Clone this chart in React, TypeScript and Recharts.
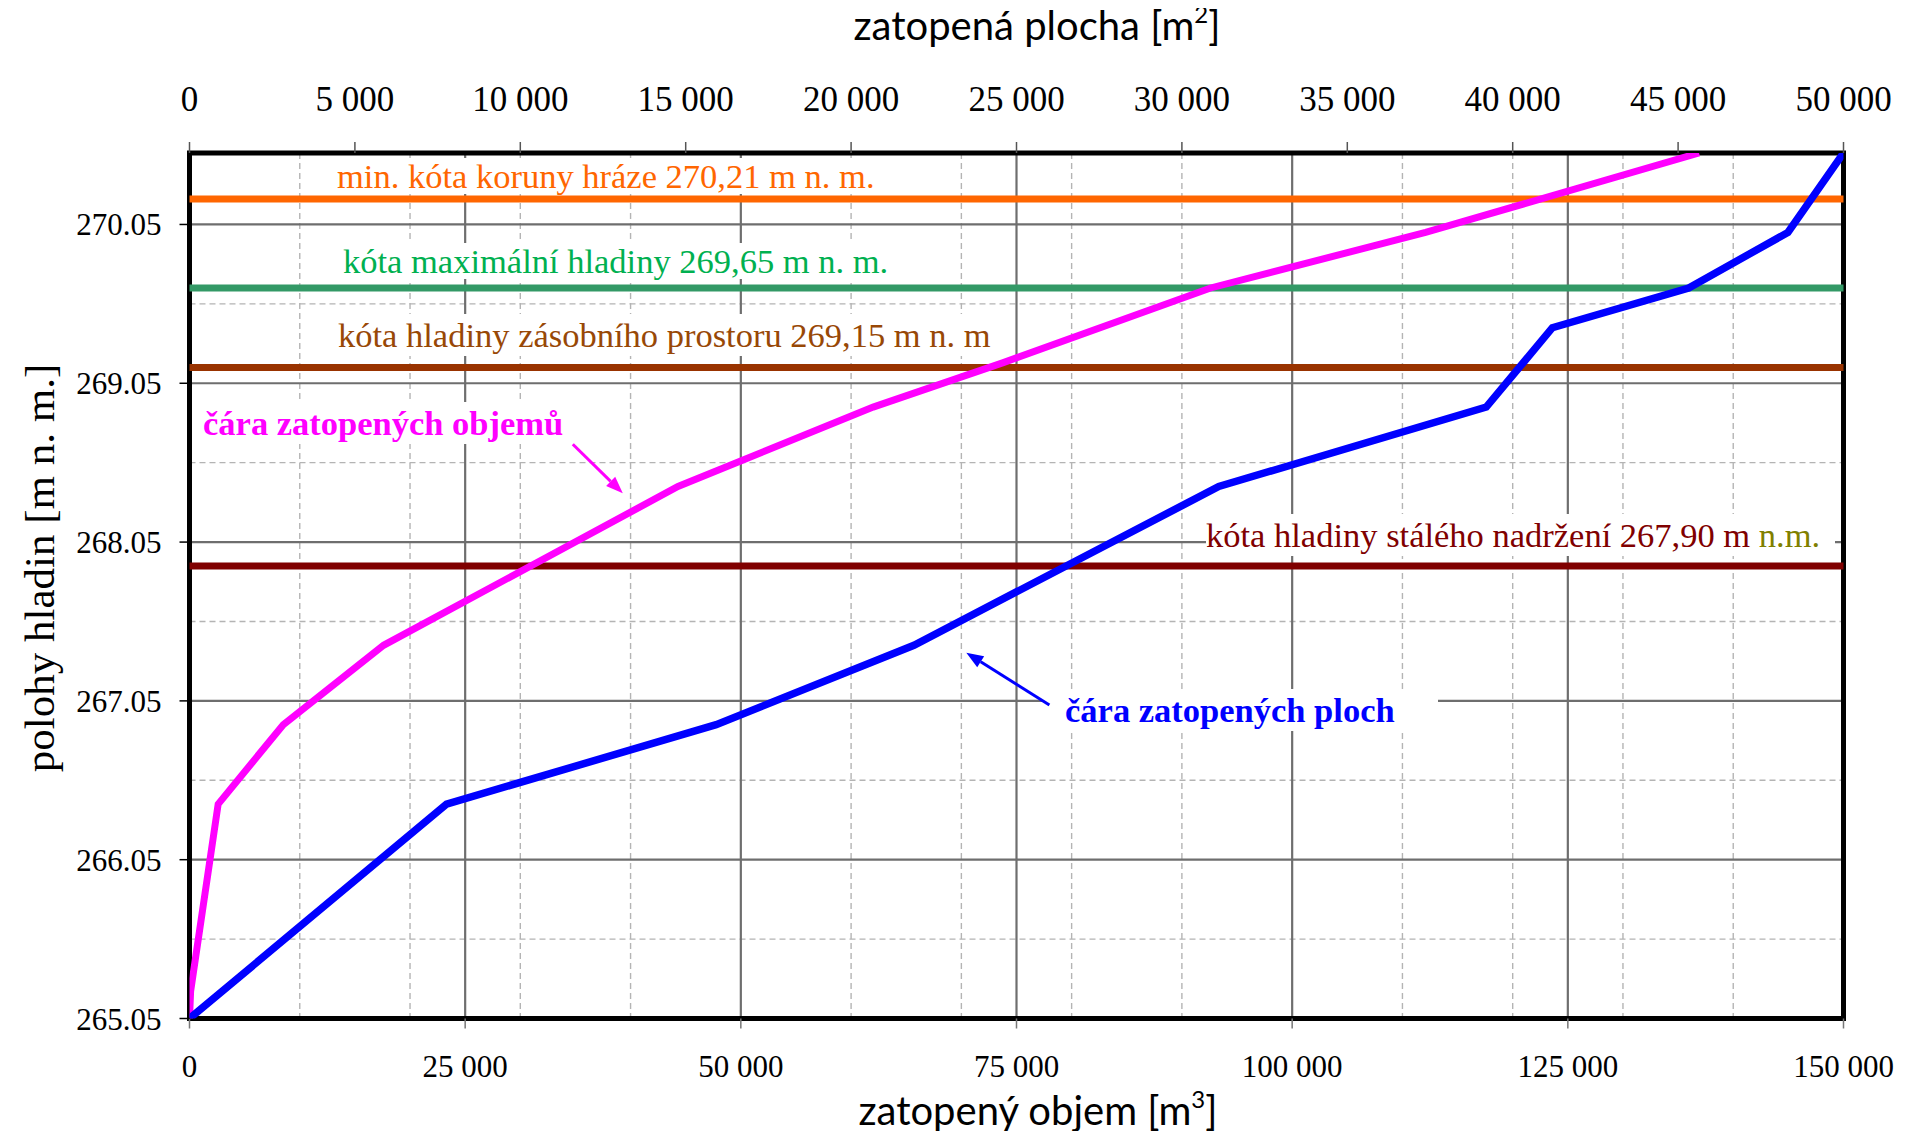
import React from 'react';
import {
  LineChart, Line, XAxis, YAxis, CartesianGrid, ReferenceLine, ReferenceArea,
} from 'recharts';

// ---- data ----
// čára zatopených objemů (volume [m3] vs elevation)
const volumeX = [0, 100, 2600, 8500, 17600, 44300, 62000, 73800, 92600, 112100, 136900];
const volumeH = [265.05, 265.22, 266.4, 266.9, 267.4, 268.4, 268.9, 269.18, 269.65, 270.0, 270.5];
// čára zatopených ploch (area [m2] vs elevation)
const areaX = [0, 7770, 15920, 21900, 31115, 39200, 41200, 45320, 48320, 50000];
const areaH = [265.05, 266.4, 266.9, 267.4, 268.4, 268.9, 269.4, 269.65, 270.0, 270.5];

// axis ticks
const yTicks = [265.05, 266.05, 267.05, 268.05, 269.05, 270.05];
const yMinor = [265.55, 266.55, 267.55, 268.55, 269.55];
const volTicks = [0, 25000, 50000, 75000, 100000, 125000, 150000];
const volMinor = [10000, 20000, 30000, 40000, 60000, 70000, 80000, 90000, 110000, 120000, 130000, 140000];
const areaTicks = [0, 5000, 10000, 15000, 20000, 25000, 30000, 35000, 40000, 45000, 50000];

// water levels
const levelCrest = 270.21;
const levelMax = 269.65;
const levelStorage = 269.15;
const levelPermanent = 267.9;

const volumeData = volumeX.map((x, i) => ({ x, h: volumeH[i] }));
const areaData = areaX.map((x, i) => ({ x, h: areaH[i] }));

const fmtThousands = (v: number) => String(v).replace(/\B(?=(\d{3})+(?!\d))/g, ' ');

const SERIF = '"Liberation Serif", "Times New Roman", serif';
const SANS = 'Lato, "Open Sans", sans-serif';

const W = 1900;
const H = 1115;
const LFS = 34.5;

// Liberation Serif: ascent .891, descent .216
function labelTop(baseline: number, fs: number, lh: number) {
  return baseline - ((lh - 1.107 * fs) / 2 + 0.891 * fs);
}

function Label({ left, baseline, fs = LFS, lh = 40, color, bold = false, padL = 0, padR = 6, children }: any) {
  return (
    <div
      style={{
        position: 'absolute',
        left: left - padL,
        top: labelTop(baseline, fs, lh),
        fontFamily: SERIF,
        fontSize: fs,
        lineHeight: lh + 'px',
        color,
        fontWeight: bold ? 700 : 400,
        background: '#fff',
        paddingLeft: padL,
        paddingRight: padR,
        whiteSpace: 'nowrap',
      }}
    >
      {children}
    </div>
  );
}

function Arrow({ x1, y1, x2, y2, color }: any) {
  const dx = x2 - x1;
  const dy = y2 - y1;
  const len = Math.sqrt(dx * dx + dy * dy);
  const ux = dx / len;
  const uy = dy / len;
  const hl = 17;
  const hw = 6.5;
  const bx = x2 - ux * hl;
  const by = y2 - uy * hl;
  const pts = `${x2},${y2} ${bx - uy * hw},${by + ux * hw} ${bx + uy * hw},${by - ux * hw}`;
  return (
    <g>
      <line x1={x1} y1={y1} x2={bx} y2={by} stroke={color} strokeWidth={3} />
      <polygon points={pts} fill={color} />
    </g>
  );
}

export default function App() {
  return (
    <div style={{ position: 'relative', width: W, height: 1123, background: '#fff' }}>
      <LineChart
        width={W}
        height={H}
        margin={{ top: 85, right: 64.5, bottom: 44.5, left: 81.5 }}
        style={{ background: '#fff' }}
      >
        <XAxis
          xAxisId="vol"
          dataKey="x"
          type="number"
          orientation="bottom"
          domain={[0, 150000]}
          ticks={volTicks}
          interval={0}
          allowDataOverflow
          height={60}
          axisLine={false}
          tickSize={10}
          tickMargin={26}
          tickLine={{ stroke: '#777', strokeWidth: 1.5 }}
          tickFormatter={fmtThousands}
          tick={{ fontFamily: SERIF, fontSize: 31, fill: '#000' }}
        />
        <XAxis
          xAxisId="area"
          dataKey="x"
          type="number"
          orientation="top"
          domain={[0, 50000]}
          ticks={areaTicks}
          interval={0}
          allowDataOverflow
          height={60}
          axisLine={false}
          tickSize={11}
          tickMargin={31}
          tickLine={{ stroke: '#555', strokeWidth: 1.5 }}
          tickFormatter={fmtThousands}
          tick={{ fontFamily: SERIF, fontSize: 35, fill: '#000' }}
        />
        <YAxis
          yAxisId="y"
          type="number"
          domain={[265.05, 270.5]}
          ticks={yTicks}
          interval={0}
          allowDataOverflow
          width={100}
          axisLine={false}
          tickSize={10}
          tickMargin={18}
          tickLine={{ stroke: '#000', strokeWidth: 1.5 }}
          tickFormatter={(v: number) => v.toFixed(2)}
          tick={{ fontFamily: SERIF, fontSize: 31, fill: '#000' }}
        />
        <CartesianGrid
          xAxisId="vol"
          yAxisId="y"
          horizontalValues={yMinor}
          verticalValues={volMinor}
          stroke="#b4b4b4"
          strokeWidth={1.4}
          strokeDasharray="6 4"
        />
        <CartesianGrid
          xAxisId="vol"
          yAxisId="y"
          horizontalValues={yTicks}
          verticalValues={volTicks}
          stroke="#6e6e6e"
          strokeWidth={2.2}
        />
        <ReferenceLine xAxisId="vol" yAxisId="y" y={levelCrest} stroke="#FF6600" strokeWidth={7} />
        <ReferenceLine xAxisId="vol" yAxisId="y" y={levelMax} stroke="#339966" strokeWidth={7} />
        <ReferenceLine xAxisId="vol" yAxisId="y" y={levelStorage} stroke="#993300" strokeWidth={7} />
        <ReferenceLine xAxisId="vol" yAxisId="y" y={levelPermanent} stroke="#800000" strokeWidth={7} />
        <Line
          data={volumeData}
          xAxisId="vol"
          yAxisId="y"
          dataKey="h"
          type="linear"
          stroke="#FF00FF"
          strokeWidth={7}
          dot={false}
          activeDot={false}
          isAnimationActive={false}
        />
        <Line
          data={areaData}
          xAxisId="area"
          yAxisId="y"
          dataKey="h"
          type="linear"
          stroke="#0000FF"
          strokeWidth={7.5}
          dot={false}
          activeDot={false}
          isAnimationActive={false}
        />
        <ReferenceArea
          xAxisId="vol"
          yAxisId="y"
          x1={0}
          x2={150000}
          y1={265.05}
          y2={270.5}
          fill="none"
          fillOpacity={0}
          stroke="#000"
          strokeWidth={5}
          ifOverflow="visible"
        />
      </LineChart>

      {/* axis titles */}
      <div style={{ position: 'absolute', left: 1029, top: 16.5, transform: 'translate(-50%,-50%)', fontFamily: SANS, fontSize: 40, lineHeight: 1, whiteSpace: 'nowrap', color: '#000' }}>
        zatopená plocha [m<span style={{ fontSize: '0.6em', position: 'relative', top: '-0.7em' }}>2</span>]
      </div>
      <div style={{ position: 'absolute', left: 1030, top: 1102, transform: 'translate(-50%,-50%)', fontFamily: SANS, fontSize: 40, lineHeight: 1, whiteSpace: 'nowrap', color: '#000' }}>
        zatopený objem [m<span style={{ fontSize: '0.6em', position: 'relative', top: '-0.7em' }}>3</span>]
      </div>
      <div style={{ position: 'absolute', left: 31, top: 560, transform: 'translate(-50%,-50%) rotate(-90deg)', fontFamily: SERIF, fontSize: 43, lineHeight: 1, whiteSpace: 'nowrap', color: '#000' }}>
        polohy hladin [m n. m.]
      </div>

      {/* level labels */}
      <Label left={329} baseline={180} lh={36} color="#FF6600">min. kóta koruny hráze 270,21 m n. m.</Label>
      <Label left={335} baseline={264.7} lh={36} color="#00B050">kóta maximální hladiny 269,65 m n. m.</Label>
      <Label left={330} baseline={338.7} lh={42} color="#984806">kóta hladiny zásobního prostoru 269,15 m n. m</Label>
      <Label left={1198} baseline={538.7} lh={42} padR={15} color="#800000">
        kóta hladiny stálého nadržení 267,90 m <span style={{ color: '#808000' }}>n.m.</span>
      </Label>
      <Label left={195} baseline={427} lh={42} bold color="#FF00FF">čára zatopených objemů</Label>
      <Label left={1057} baseline={713.7} lh={42} bold padL={23} padR={43} color="#0000FF">čára zatopených ploch</Label>

      <svg width={W} height={1123} style={{ position: 'absolute', left: 0, top: 0, pointerEvents: 'none' }}>
        <Arrow x1={564.8} y1={436.3} x2={614.8} y2={485.3} color="#FF00FF" />
        <Arrow x1={1041.4} y1={697} x2={958.3} y2={644.7} color="#0000FF" />
      </svg>
    </div>
  );
}
